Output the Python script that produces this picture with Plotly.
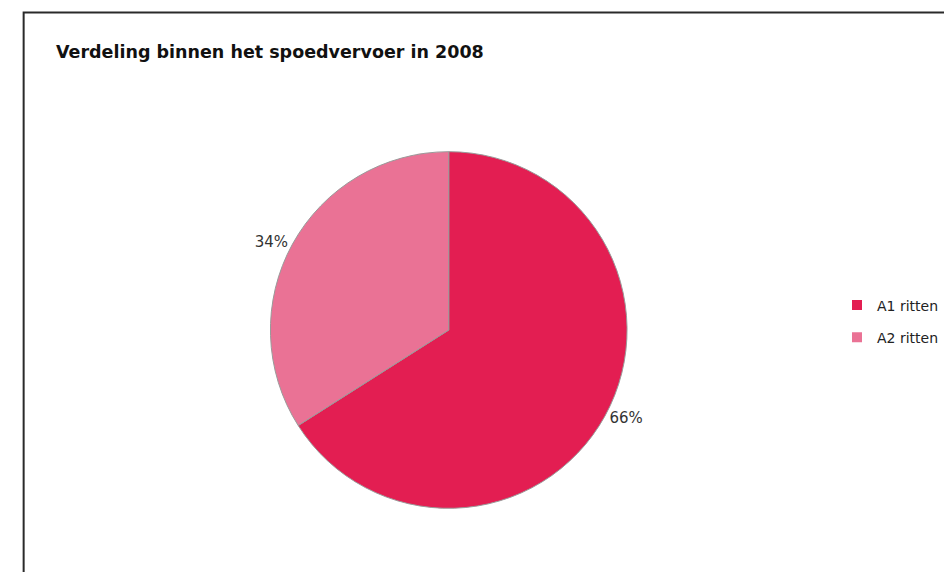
import plotly.graph_objects as go

# Distribution of urgent ambulance rides, 2008
categories = ["A1 ritten", "A2 ritten"]
shares = [66, 34]
slice_colors = ["#E31E52", "#EA7295"]

W, H = 944, 572
cx, cy, r = 455.5, 330, 181

fig = go.Figure()

fig.add_trace(
    go.Pie(
        labels=categories,
        values=shares,
        sort=False,
        direction="clockwise",
        rotation=0,
        marker=dict(colors=slice_colors, line=dict(color="#9a9a9a", width=1)),
        texttemplate="%{percent:.0%}",
        textposition="outside",
        textfont=dict(family="DejaVu Sans", size=15, color="#333333"),
        hoverinfo="label+percent",
        showlegend=False,
        domain=dict(
            x=[(cx - r) / W, (cx + r) / W],
            y=[1 - (cy + r) / H, 1 - (cy - r) / H],
        ),
    )
)

# Legend entries: one square swatch per category, spaced apart by group gap
for name, color in zip(categories, slice_colors):
    fig.add_trace(
        go.Scatter(
            x=[None],
            y=[None],
            mode="markers",
            name=name,
            legendgroup=name,
            marker=dict(symbol="square", size=10, color=color),
            hoverinfo="skip",
        )
    )

fig.update_layout(
    width=W,
    height=H,
    margin=dict(l=0, r=0, t=0, b=0),
    paper_bgcolor="white",
    plot_bgcolor="white",
    font=dict(family="DejaVu Sans", color="#222222"),
    xaxis=dict(visible=False),
    yaxis=dict(visible=False),
    title=dict(
        text="<b>Verdeling binnen het spoedvervoer in 2008</b>",
        x=56 / W,
        xanchor="left",
        y=1 - 52 / H,
        yanchor="middle",
        font=dict(family="DejaVu Sans", size=17.5, color="#111111"),
    ),
    legend=dict(
        x=850 / W,
        xanchor="left",
        y=1 - 321.5 / H,
        yanchor="middle",
        font=dict(family="DejaVu Sans", size=14, color="#222222"),
        itemwidth=30,
        tracegroupgap=11,
        traceorder="grouped",
        bgcolor="rgba(0,0,0,0)",
    ),
    shapes=[
        dict(
            type="rect",
            xref="paper",
            yref="paper",
            x0=24 / W,
            x1=1.02,
            y0=-0.02,
            y1=1 - 12.5 / H,
            line=dict(color="#2a2a2a", width=2),
            fillcolor="rgba(0,0,0,0)",
            layer="below",
        )
    ],
)

fig.write_html("out.html")
